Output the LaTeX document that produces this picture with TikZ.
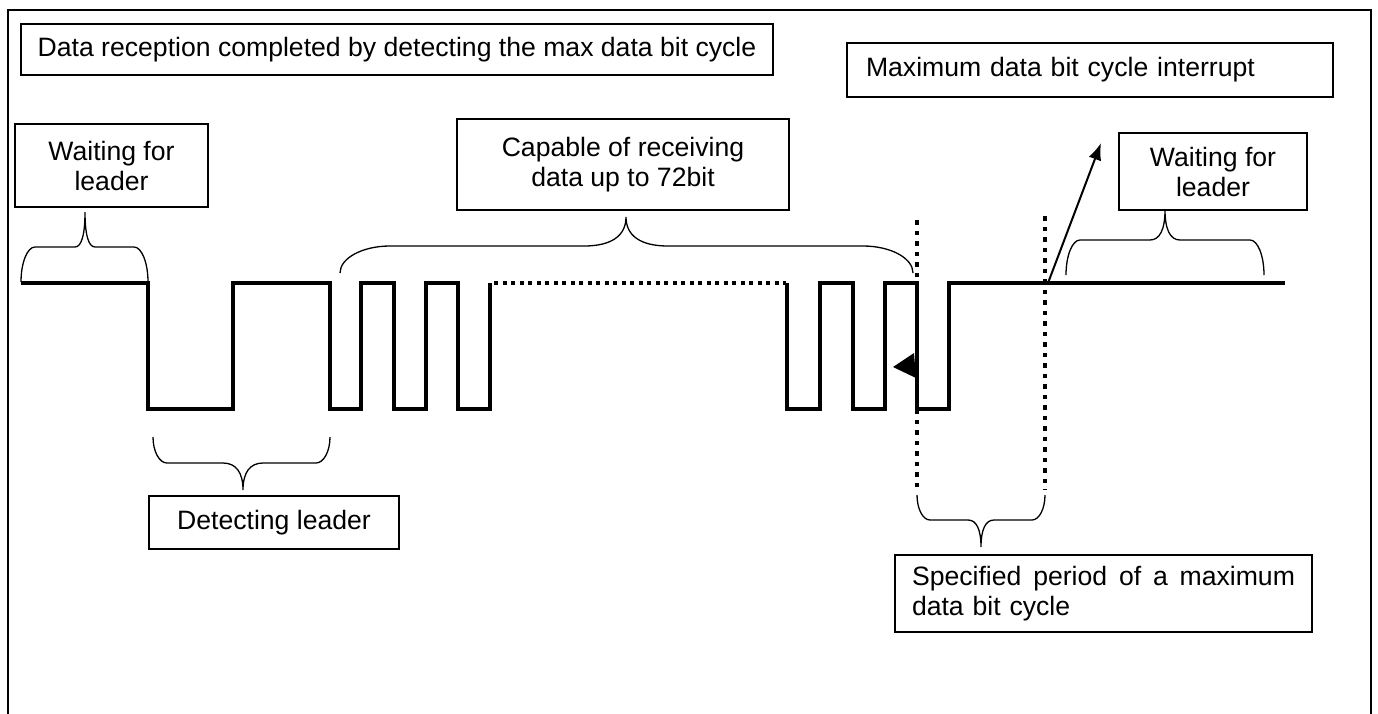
\documentclass[tikz,border=0pt]{standalone}
\usepackage{fontspec}
\setmainfont{Liberation Sans}
\usetikzlibrary{arrows.meta}
% brace: x1 x2 xm yend yh ytip r t
\newcommand\bracep[8]{%
\draw[bracestyle] (#1,#4) .. controls (#1,{#4+0.552*(#5-#4)}) and ({#1+0.448*#7},#5) .. ({#1+#7},#5)
 -- ({#3-#8},#5) .. controls ({#3-0.35*#8},#5) and (#3,{#5+0.35*(#6-#5)}) .. (#3,#6)
 .. controls (#3,{#5+0.35*(#6-#5)}) and ({#3+0.35*#8},#5) .. ({#3+#8},#5)
 -- ({#2-#7},#5) .. controls ({#2-0.448*#7},#5) and (#2,{#4+0.552*(#5-#4)}) .. (#2,#4);}
\tikzset{
 lbl/.style={draw, line width=1.3pt, font=\fontsize{26.6}{30}\selectfont, inner sep=0pt, align=center},
 sig/.style={line width=3.5pt, line join=miter},
 hdot/.style={line width=4pt, dash pattern=on 4pt off 4.5pt},
 vdot/.style={line width=4.5pt, dash pattern=on 4.5pt off 6pt},
 bracestyle/.style={line width=1.3pt},
 frame/.style={line width=2pt},
}
\begin{document}
\begin{tikzpicture}[x=1pt,y=-1pt]
\useasboundingbox (0,0) rectangle (1378,713);
\draw[frame] (8,720) -- (8,10) -- (1371,10) -- (1371,720);
% label boxes
\node[lbl, minimum width=752pt, minimum height=51pt] (title) at (397,49.5) {Data reception completed by detecting the max data bit cycle};
\node[lbl, minimum width=486pt, minimum height=54pt, text width=448pt, align=left] (maxint) at (1090,70) {Maximum data bit cycle interrupt};
\node[lbl, minimum width=193pt, minimum height=83pt] (wait1) at (111.5,165.5) {Waiting for\\leader};
\node[lbl, minimum width=332pt, minimum height=91pt] (capable) at (623,164.5) {Capable of receiving\\data up to 72bit};
\node[lbl, minimum width=188pt, minimum height=77pt] (wait2) at (1213,171.5) {Waiting for\\leader};
\node[lbl, minimum width=250pt, minimum height=53pt] (detect) at (274,522.5) {Detecting leader};
\node[lbl, minimum width=417pt, minimum height=77pt, text width=383pt, align=left] (spec) at (1103.5,593.5) {\hbox to 383pt{Specified\hfill period\hfill of\hfill a\hfill maximum}\\data bit cycle};
% braces
\bracep{21}{148}{85}{282}{247}{212}{14}{10}
\bracep{340}{913}{626}{273}{246}{217}{50}{42}
\bracep{1066}{1264}{1165}{275}{240}{210}{14}{15}
\bracep{153}{330}{243}{437}{463}{490}{14}{20}
\bracep{917}{1045}{981}{495}{520}{547}{13}{13}
% signal
\draw[sig] (21,283) -- (148,283) -- (148,409) -- (233,409) -- (233,283) -- (330,283) -- (330,409)
 -- (361,409) -- (361,283) -- (394,283) -- (394,409) -- (426,409) -- (426,283) -- (458,283)
 -- (458,409) -- (490,409) -- (490,283);
\draw[hdot] (494,283) -- (786,283);
\draw[sig] (787,283) -- (787,409) -- (820,409) -- (820,283) -- (853,283) -- (853,409) -- (885,409)
 -- (885,283) -- (917,283) -- (917,409) -- (949,409) -- (949,283) -- (1285,283);
% dotted period markers
\coordinate (p1top) at (917,220);
\coordinate (p1bot) at (917,490);
\coordinate (p2top) at (1045,216);
\coordinate (p2bot) at (1045,490);
\draw[vdot] (p1top) -- (p1bot);
\draw[vdot] (p2top) -- (p2bot);
% arrows
\coordinate (cross) at (1048,283);
\coordinate (intr) at (1101,143);
\draw[line width=2pt, -{Latex[length=17pt,width=13pt]}] (cross) -- (intr);
\coordinate (tipA) at (893,367);
\fill (tipA) -- (914,353) -- (916,378) -- cycle;
\end{tikzpicture}
\end{document}
